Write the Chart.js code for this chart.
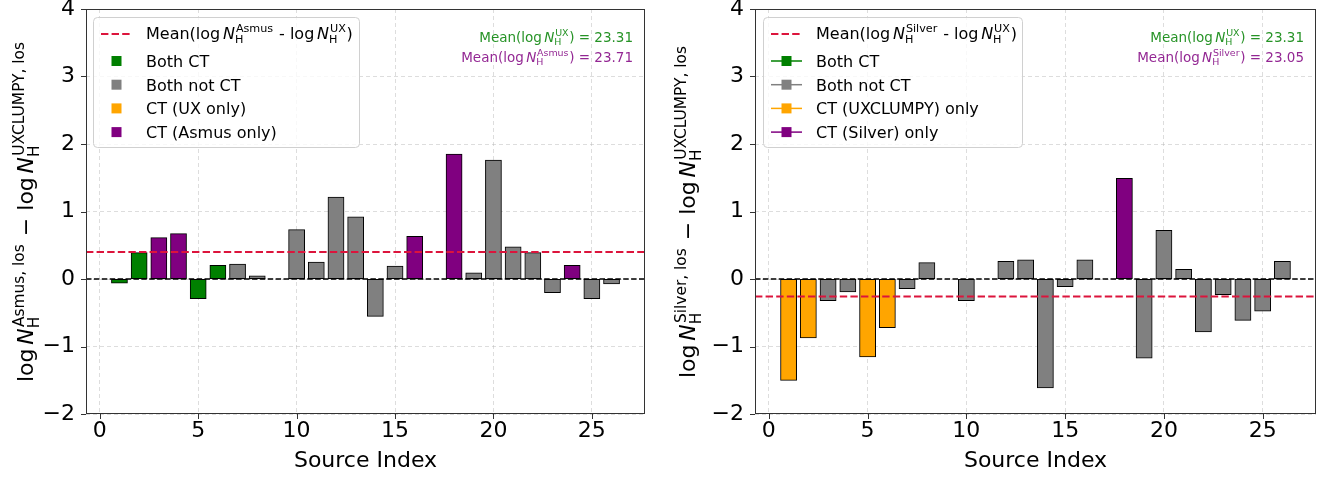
<!DOCTYPE html>
<html>
<head>
<meta charset="utf-8">
<script src="https://cdn.jsdelivr.net/npm/chart.js@4/dist/chart.umd.min.js"></script>
<style>
  body { margin: 0; background: #fff; }
  .panel { position: absolute; top: 0; }
</style>
</head>
<body>
<canvas id="left" class="panel" style="left:0" width="662" height="478"></canvas>
<canvas id="right" class="panel" style="left:662px" width="663" height="478"></canvas>
<script>
// source index along x
const sourceIndex = [1, 2, 3, 4, 5, 6, 7, 8, 9, 10, 11, 12, 13, 14, 15, 16, 17, 18, 19, 20, 21, 22, 23, 24, 25, 26];

// log NH(Asmus) - log NH(UXCLUMPY)
const asmusDiff = [-0.06, 0.39, 0.61, 0.67, -0.29, 0.20, 0.22, 0.045, 0, 0.73, 0.25, 1.21, 0.92, -0.55, 0.19, 0.63, 0, 1.85, 0.09, 1.76, 0.475, 0.39, -0.20, 0.20, -0.29, -0.07];
const asmusClass = ['both', 'both', 'other', 'other', 'both', 'both', 'none', 'none', 'none', 'none', 'none', 'none', 'none', 'none', 'none', 'other', 'none', 'other', 'none', 'none', 'none', 'none', 'none', 'other', 'none', 'none'];

// log NH(Silver) - log NH(UXCLUMPY)
const silverDiff = [-1.50, -0.87, -0.32, -0.19, -1.15, -0.72, -0.14, 0.24, 0, -0.32, 0, 0.26, 0.28, -1.61, -0.11, 0.28, 0, 1.49, -1.17, 0.72, 0.14, -0.78, -0.23, -0.61, -0.475, 0.26];
const silverClass = ['ux', 'ux', 'none', 'none', 'ux', 'ux', 'none', 'none', 'none', 'none', 'none', 'none', 'none', 'none', 'none', 'none', 'none', 'other', 'none', 'none', 'none', 'none', 'none', 'none', 'none', 'none'];

const meanUX = 23.31;
const meanAsmus = 23.71;
const meanSilver = 23.05;

const xTicks = [0, 5, 10, 15, 20, 25];
const yTicks = [-2, -1, 0, 1, 2, 3, 4];

const asmusLegend = ['Both CT', 'Both not CT', 'CT (UX only)', 'CT (Asmus only)'];
const silverLegend = ['Both CT', 'Both not CT', 'CT (UXCLUMPY) only', 'CT (Silver) only'];
const legendClasses = ['both', 'none', 'ux', 'other'];

const classColor = { both: '#008000', none: '#808080', ux: '#FFA500', other: '#800080' };
const FONT = '"DejaVu Sans", sans-serif';

function fontOf(size, it) {
  return (it ? 'italic ' : '') + size + 'px ' + FONT;
}

// N_H with a superscript, as mathtext would set it
function NH(sup) {
  return [{ t: 'N', it: true }, { sup: sup, sub: 'H' }];
}

function richWidth(ctx, parts, size) {
  let w = 0;
  for (const p of parts) {
    if (p.t !== undefined) {
      ctx.font = fontOf(size, p.it);
      w += ctx.measureText(p.t).width;
    } else if (p.sp) {
      w += p.sp * size;
    } else {
      ctx.font = fontOf(size * 0.7);
      w += Math.max(ctx.measureText(p.sup).width + size * 0.06, ctx.measureText(p.sub).width) + size * 0.05;
    }
  }
  return w;
}

function drawRich(ctx, parts, x, y, size, color) {
  ctx.fillStyle = color;
  ctx.textBaseline = 'alphabetic';
  ctx.textAlign = 'left';
  for (const p of parts) {
    if (p.t !== undefined) {
      ctx.font = fontOf(size, p.it);
      ctx.fillText(p.t, x, y);
      x += ctx.measureText(p.t).width;
    } else if (p.sp) {
      x += p.sp * size;
    } else {
      ctx.font = fontOf(size * 0.7);
      ctx.fillText(p.sup, x + size * 0.06, y - size * 0.42);
      ctx.fillText(p.sub, x, y + size * 0.25);
      x += Math.max(ctx.measureText(p.sup).width + size * 0.06, ctx.measureText(p.sub).width) + size * 0.05;
    }
  }
}

const decor = {
  id: 'decor',
  afterDatasetsDraw(chart) {
    const { ctx, chartArea: a, scales: { y } } = chart;
    const o = chart.options.plugins.decor;
    ctx.save();
    ctx.beginPath();
    ctx.rect(a.left, a.top, a.right - a.left, a.bottom - a.top);
    ctx.clip();
    // zero line
    ctx.strokeStyle = '#000';
    ctx.lineWidth = 1.5;
    ctx.setLineDash([5.5, 2.4]);
    ctx.beginPath();
    ctx.moveTo(a.left, y.getPixelForValue(0));
    ctx.lineTo(a.right, y.getPixelForValue(0));
    ctx.stroke();
    // mean difference
    ctx.strokeStyle = '#DC143C';
    ctx.lineWidth = 2;
    ctx.setLineDash([7.4, 3.2]);
    ctx.beginPath();
    ctx.moveTo(a.left, y.getPixelForValue(o.mean));
    ctx.lineTo(a.right, y.getPixelForValue(o.mean));
    ctx.stroke();
    ctx.restore();
  },
  afterDraw(chart) {
    const { ctx, chartArea: a, scales: { x, y } } = chart;
    const o = chart.options.plugins.decor;
    ctx.save();

    // frame and tick marks
    ctx.strokeStyle = '#333';
    ctx.lineWidth = 1;
    ctx.setLineDash([]);
    ctx.strokeRect(a.left + 0.5, a.top + 0.5, a.right - a.left - 1, a.bottom - a.top - 1);
    ctx.beginPath();
    for (const t of x.ticks) {
      const px = Math.round(x.getPixelForValue(t.value)) + 0.5;
      ctx.moveTo(px, a.bottom);
      ctx.lineTo(px, a.bottom + 5);
    }
    for (const t of y.ticks) {
      const py = Math.round(y.getPixelForValue(t.value)) + 0.5;
      ctx.moveTo(a.left, py);
      ctx.lineTo(a.left - 5, py);
    }
    ctx.stroke();

    // legend
    const L = o.legend;
    ctx.fillStyle = 'rgba(255,255,255,0.8)';
    ctx.strokeStyle = '#d0d0d0';
    ctx.beginPath();
    ctx.roundRect(L.x + 0.5, L.y + 0.5, L.w, L.h, 4);
    ctx.fill();
    ctx.stroke();

    const hx = L.x + 8, hw = 31;
    ctx.strokeStyle = '#DC143C';
    ctx.lineWidth = 2;
    ctx.setLineDash([7.4, 3.2]);
    ctx.beginPath();
    ctx.moveTo(hx, L.y + 17);
    ctx.lineTo(hx + hw, L.y + 17);
    ctx.stroke();
    ctx.setLineDash([]);
    drawRich(ctx, o.meanLabel, L.x + 53, L.y + 22, 16, '#000');

    o.labels.forEach((lab, i) => {
      const base = L.y + 50 + i * 23.7;
      const col = classColor[legendClasses[i]];
      const cx = hx + hw / 2, cy = base - 6;
      if (L.lines) {
        ctx.strokeStyle = col;
        ctx.lineWidth = 1.5;
        ctx.beginPath();
        ctx.moveTo(hx, cy);
        ctx.lineTo(hx + hw, cy);
        ctx.stroke();
      }
      ctx.fillStyle = col;
      ctx.fillRect(cx - 5, cy - 5, 10, 10);
      ctx.font = fontOf(16);
      ctx.fillStyle = '#000';
      ctx.textAlign = 'left';
      ctx.textBaseline = 'alphabetic';
      ctx.fillText(lab, L.x + 53, base);
    });

    // mean annotations, right aligned
    o.notes.forEach(n => {
      const w = richWidth(ctx, n.parts, 13.5);
      drawRich(ctx, n.parts, a.right - 12 - w, n.y, 13.5, n.color);
    });

    // y axis title
    const tw = richWidth(ctx, o.yTitle, 22);
    ctx.translate(33, (a.top + a.bottom) / 2);
    ctx.rotate(-Math.PI / 2);
    drawRich(ctx, o.yTitle, -tw / 2, 0, 22, '#000');
    ctx.restore();
  }
};

function makePanel(id, diff, cls, cfg) {
  const ctx = document.getElementById(id).getContext('2d');
  return new Chart(ctx, {
    type: 'bar',
    data: {
      datasets: [{
        data: sourceIndex.map((s, i) => ({ x: s, y: diff[i] })),
        backgroundColor: cls.map(c => classColor[c]),
        borderColor: '#000',
        borderWidth: 1,
        borderSkipped: false,
        inflateAmount: 0.5,
        categoryPercentage: 1,
        barPercentage: 0.8
      }]
    },
    options: {
      responsive: false,
      animation: false,
      devicePixelRatio: 1,
      layout: { padding: { top: 9, right: cfg.padRight, left: 0, bottom: 0 } },
      scales: {
        x: {
          type: 'linear',
          min: -0.7,
          max: 27.7,
          offset: false,
          afterBuildTicks: s => { s.ticks = xTicks.map(v => ({ value: v })); },
          afterFit: s => { s.height = 64; s.paddingLeft = 0; s.paddingRight = 0; },
          ticks: { color: '#000', font: { family: FONT, size: 22 }, padding: 4, maxRotation: 0 },
          grid: { color: 'rgba(176,176,176,0.55)', lineWidth: 0.8, offset: false, drawTicks: false },
          border: { display: false, dash: [4, 3] },
          title: { display: true, text: 'Source Index', color: '#000', font: { family: FONT, size: 22 }, padding: { top: 0, bottom: 4 } }
        },
        y: {
          min: -2,
          max: 4,
          afterBuildTicks: s => { s.ticks = yTicks.map(v => ({ value: v })); },
          afterFit: s => { s.width = cfg.areaLeft; s.paddingTop = 0; s.paddingBottom = 0; },
          ticks: { color: '#000', font: { family: FONT, size: 22 }, padding: 11, callback: v => String(v).replace('-', '\u2212') },
          grid: { color: 'rgba(176,176,176,0.55)', lineWidth: 0.8, drawTicks: false },
          border: { display: false, dash: [4, 3] }
        }
      },
      plugins: {
        legend: { display: false },
        tooltip: { enabled: false },
        decor: cfg.decor
      }
    },
    plugins: [decor]
  });
}

const meanLabel = sup => [{ t: 'Mean(log' }, { sp: 0.17 }, ...NH(sup), { t: ' - log' }, { sp: 0.17 }, ...NH('UX'), { t: ')' }];
const meanNote = (sup, val) => [{ t: 'Mean(log' }, { sp: 0.17 }, ...NH(sup), { t: ') = ' + val.toFixed(2) }];
const yTitle = sup => [{ t: 'log' }, { sp: 0.17 }, ...NH(sup + ', los'), { t: ' \u2212 log' }, { sp: 0.17 }, ...NH('UXCLUMPY, los')];

makePanel('left', asmusDiff, asmusClass, {
  areaLeft: 86,
  padRight: 17,
  decor: {
    mean: meanAsmus - meanUX,
    meanLabel: meanLabel('Asmus'),
    labels: asmusLegend,
    legend: { x: 93, y: 17, w: 266, h: 130, lines: false },
    notes: [
      { parts: meanNote('UX', meanUX), y: 42, color: 'rgba(0,128,0,0.85)' },
      { parts: meanNote('Asmus', meanAsmus), y: 62, color: 'rgba(128,0,128,0.85)' }
    ],
    yTitle: yTitle('Asmus')
  }
});

makePanel('right', silverDiff, silverClass, {
  areaLeft: 93,
  padRight: 9,
  decor: {
    mean: meanSilver - meanUX,
    meanLabel: meanLabel('Silver'),
    labels: silverLegend,
    legend: { x: 763 - 662, y: 17, w: 259, h: 130, lines: true },
    notes: [
      { parts: meanNote('UX', meanUX), y: 42, color: 'rgba(0,128,0,0.85)' },
      { parts: meanNote('Silver', meanSilver), y: 62, color: 'rgba(128,0,128,0.85)' }
    ],
    yTitle: yTitle('Silver')
  }
});
</script>
</body>
</html>
